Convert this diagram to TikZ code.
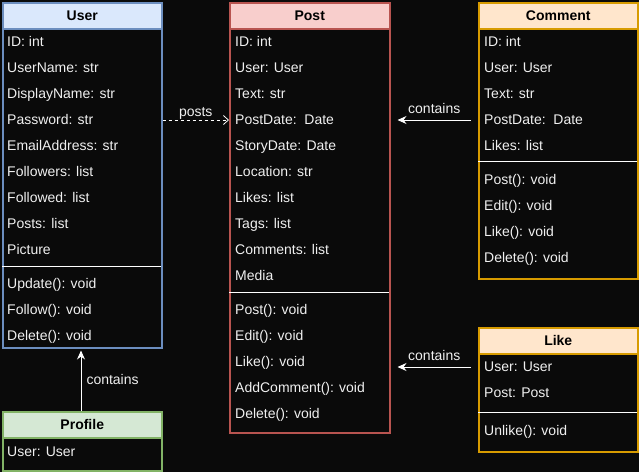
\documentclass[tikz,border=0pt]{standalone}
\usepackage{fontspec}
\setmainfont{Liberation Sans}
\usetikzlibrary{arrows.meta}
\definecolor{bgc}{HTML}{0A0A0A}
\definecolor{txt}{HTML}{F0F0F0}
\definecolor{bluef}{HTML}{DAE8FC}\definecolor{blued}{HTML}{6C8EBF}
\definecolor{redf}{HTML}{F8CECC}\definecolor{redd}{HTML}{B85450}
\definecolor{orf}{HTML}{FFE6CC}\definecolor{ord}{HTML}{D79B00}
\definecolor{grf}{HTML}{D5E8D4}\definecolor{grd}{HTML}{82B366}
\tikzset{
  head/.style={draw=#1, line width=1.5pt, anchor=north west, inner sep=0pt,
    font=\fontsize{14}{16}\selectfont\bfseries, text=black, text height=11pt, text depth=2pt},
  body/.style={draw=#1, line width=1.5pt, anchor=north west, inner sep=0pt, fill=bgc},
  row/.style={anchor=west, inner sep=0pt, text=txt, font=\fontsize{14}{16}\selectfont,
    text height=10.5pt, text depth=2.5pt},
  lbl/.style={inner sep=0pt, text=txt, font=\fontsize{14}{16}\selectfont},
  sep/.style={draw=white, line width=1pt},
  conn/.style={draw=white, line width=1pt, -{Stealth[length=9pt,width=8pt]}},
}
\begin{document}
\begin{tikzpicture}[x=1pt,y=-1pt]
\fill[bgc] (0,0) rectangle (639,472);
\useasboundingbox (0,0) rectangle (639,472);

% User
\node[body=blued, minimum width=159pt, minimum height=319pt] (ubody) at (2,28) {};
\node[head=blued, fill=bluef, minimum width=159pt, minimum height=26pt] (uhead) at (2,2) {User};
\node[row] (u1) at (7,42) {ID: int};
\node[row] (u2) at (7,68) {UserName: str};
\node[row] (u3) at (7,94) {DisplayName: str};
\node[row] (u4) at (7,120) {Password: str};
\node[row] (u5) at (7,146) {EmailAddress: str};
\node[row] (u6) at (7,172) {Followers: list};
\node[row] (u7) at (7,198) {Followed: list};
\node[row] (u8) at (7,224) {Posts: list};
\node[row] (u9) at (7,250) {Picture};
\draw[sep] (2,266) -- (161,266);
\node[row] (u10) at (7,284) {Update(): void};
\node[row] (u11) at (7,310) {Follow(): void};
\node[row] (u12) at (7,336) {Delete(): void};

% Post
\node[body=redd, minimum width=160pt, minimum height=404pt] (pbody) at (229,28) {};
\node[head=redd, fill=redf, minimum width=160pt, minimum height=26pt] (phead) at (229,2) {Post};
\node[row] (p1) at (235,42) {ID: int};
\node[row] (p2) at (235,68) {User: User};
\node[row] (p3) at (235,94) {Text: str};
\node[row] (p4) at (235,120) {PostDate:\ \ Date};
\node[row] (p5) at (235,146) {StoryDate: Date};
\node[row] (p6) at (235,172) {Location: str};
\node[row] (p7) at (235,198) {Likes: list};
\node[row] (p8) at (235,224) {Tags: list};
\node[row] (p9) at (235,250) {Comments: list};
\node[row] (p10) at (235,276) {Media};
\draw[sep] (229,292) -- (389,292);
\node[row] (p11) at (235,310) {Post(): void};
\node[row] (p12) at (235,336) {Edit(): void};
\node[row] (p13) at (235,362) {Like(): void};
\node[row] (p14) at (235,388) {AddComment(): void};
\node[row] (p15) at (235,414) {Delete(): void};

% Comment
\node[body=ord, minimum width=159pt, minimum height=250pt] (cbody) at (478,28) {};
\node[head=ord, fill=orf, minimum width=159pt, minimum height=26pt] (chead) at (478,2) {Comment};
\node[row] (c1) at (484,42) {ID: int};
\node[row] (c2) at (484,68) {User: User};
\node[row] (c3) at (484,94) {Text: str};
\node[row] (c4) at (484,120) {PostDate:\ \ Date};
\node[row] (c5) at (484,146) {Likes: list};
\draw[sep] (478,161) -- (637,161);
\node[row] (c6) at (484,180) {Post(): void};
\node[row] (c7) at (484,206) {Edit(): void};
\node[row] (c8) at (484,232) {Like(): void};
\node[row] (c9) at (484,258) {Delete(): void};

% Like
\node[body=ord, minimum width=159pt, minimum height=98pt] (lbody) at (478,353) {};
\node[head=ord, fill=orf, minimum width=159pt, minimum height=26pt] (lhead) at (478,327) {Like};
\node[row] (l1) at (484,367) {User: User};
\node[row] (l2) at (484,393) {Post: Post};
\draw[sep] (478,412) -- (637,412);
\node[row] (l3) at (484,431) {Unlike(): void};

% Profile
\node[body=grd, minimum width=159pt, minimum height=33pt] (fbody) at (2,437) {};
\node[head=grd, fill=grf, minimum width=159pt, minimum height=26pt] (fhead) at (2,411) {Profile};
\node[row] (f1) at (7,452) {User: User};

% connectors
\draw[draw=white, line width=0.8pt, dashed, -{Straight Barb[length=5pt,width=9pt]}]
  (ubody.east |- u4) -- (pbody.west |- p4) node[lbl, midway, above=0pt] {posts};
\draw[conn, shorten <=7pt, shorten >=7pt] (cbody.west |- c4) -- (pbody.east |- c4)
  node[lbl, midway, above=6pt] {contains};
\draw[conn, shorten <=7pt, shorten >=7pt] (lbody.west |- l1) -- (pbody.east |- l1)
  node[lbl, midway, above=6pt] {contains};
\draw[conn, shorten >=2pt] (fhead.north -| 81,0) -- (ubody.south -| 81,0)
  node[lbl, midway, right=5pt] {contains};
\end{tikzpicture}
\end{document}
